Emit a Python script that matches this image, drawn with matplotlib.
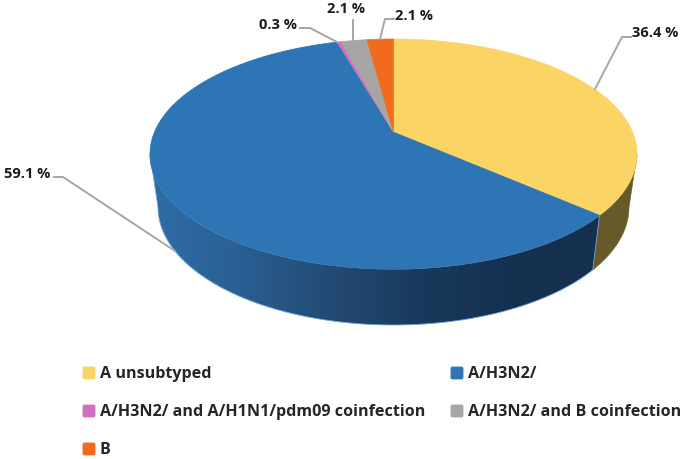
#!/usr/bin/env python3
import matplotlib

matplotlib.use("Agg")
import matplotlib.pyplot as plt
import numpy as np
from matplotlib.colors import LinearSegmentedColormap
from matplotlib.patches import FancyBboxPatch, Polygon


CATEGORIES = [
    "A unsubtyped",
    "A/H3N2/",
    "A/H3N2/ and A/H1N1/pdm09 coinfection",
    "A/H3N2/ and B coinfection",
    "B",
]
VALUES = [36.4, 59.1, 0.3, 2.1, 2.1]
COLORS = ["#FAD566", "#2E75B6", "#D070C0", "#A9A5A5", "#F26A1E"]
LABEL_TEXTS = ["36.4 %", "59.1 %", "0.3 %", "2.1 %", "2.1 %"]

# top rim ellipse, bottom rim ellipse and the tilt of the pie (pixels)
TOP = (393.5, 155.0, 243.5, 115.0)
BOTTOM = (393.5, 208.0, 235.5, 118.0)
TILT = -0.19

LABEL_POS = [(632, 33), (4, 174), (259, 25), (327, 9), (395, 16)]
LEADERS = [
    [(595, 90), (622, 38), (631, 38)],
    [(54, 178), (63, 178), (175, 252)],
    [(300, 29), (310, 29), (337, 43)],
    [(353, 42), (353, 21)],
    [(380, 40), (385, 20), (394, 20)],
]
LEGEND_POS = [(83, 374), (451, 374), (83, 412), (451, 412), (83, 450)]


def rim_point(angle, ellipse):
    # angle is clockwise from the back of the pie; tilt moves the apex backwards
    cx, cy, rx, ry = ellipse
    u = np.sin(angle)
    v = -np.cos(angle)
    den = 1 + TILT * v
    x = u * np.sqrt(1 - TILT**2) / den
    y = (v + TILT) / den
    return cx + rx * x, cy + ry * y


def wall_polygon(start, end):
    angles = np.linspace(start, end, 400)
    xs, ys = rim_point(angles, TOP)
    xb, yb = rim_point(angles, BOTTOM)
    keep = ys >= TOP[1]
    top = list(zip(xs[keep], ys[keep]))
    bottom = list(zip(xb[keep], yb[keep]))
    return top + bottom[::-1]


def draw_pie(ax):
    edges = np.radians(np.concatenate([[0], np.cumsum(VALUES)]) / sum(VALUES) * 360)

    # yellow wall is nearly flat, blue wall gets darker to the right
    yellow = Polygon(wall_polygon(edges[0], edges[1]), closed=True, facecolor="#665A2A",
                     edgecolor="#665A2A", linewidth=0.4, zorder=2)
    ax.add_patch(yellow)

    blue = Polygon(wall_polygon(edges[1], edges[2]), closed=True, facecolor="none",
                   edgecolor="#6FA3D8", linewidth=0.6, zorder=3)
    ax.add_patch(blue)
    cmap = LinearSegmentedColormap.from_list(
        "wall", ["#2F6DA8", "#2A5F93", "#234A74", "#19395C", "#15304F", "#15304F"]
    )
    gradient = ax.imshow(np.linspace(0, 1, 256).reshape(1, -1), cmap=cmap, aspect="auto",
                         extent=(145, 610, 340, 150), zorder=2)
    gradient.set_clip_path(blue)
    ax.set_xlim(0, 685)
    ax.set_ylim(460, 0)

    apex = (TOP[0], TOP[1] + TOP[3] * TILT)
    for i, color in enumerate(COLORS):
        angles = np.linspace(edges[i], edges[i + 1], 200)
        xs, ys = rim_point(angles, TOP)
        points = [apex] + list(zip(xs, ys))
        ax.add_patch(Polygon(points, closed=True, facecolor=color, edgecolor=color,
                             linewidth=0.5, zorder=4))


def draw_labels(ax):
    for text, pos, leader in zip(LABEL_TEXTS, LABEL_POS, LEADERS):
        ax.text(pos[0], pos[1], text, fontsize=10.5, fontweight="bold", color="#1A1A1A",
                va="center", ha="left", zorder=6)
        ax.plot([p[0] for p in leader], [p[1] for p in leader], color="#A6A6A6",
                linewidth=1.4, zorder=5)


def draw_legend(ax):
    for name, color, pos in zip(CATEGORIES, COLORS, LEGEND_POS):
        ax.add_patch(FancyBboxPatch((pos[0], pos[1] - 6), 12, 12,
                                    boxstyle="round,pad=0,rounding_size=1.5",
                                    facecolor=color, edgecolor=color, linewidth=0.6))
        ax.text(pos[0] + 17, pos[1], name, fontsize=11.6, fontweight="bold", color="#262626",
                va="center", ha="left")


def main():
    plt.rcParams["font.family"] = ["Open Sans", "DejaVu Sans"]
    fig = plt.figure(figsize=(6.85, 4.6), dpi=100)
    ax = fig.add_axes([0, 0, 1, 1])
    ax.set_xlim(0, 685)
    ax.set_ylim(460, 0)
    ax.axis("off")
    draw_pie(ax)
    draw_labels(ax)
    draw_legend(ax)
    fig.savefig("out.png", dpi=100)
    plt.close(fig)


if __name__ == "__main__":
    main()
